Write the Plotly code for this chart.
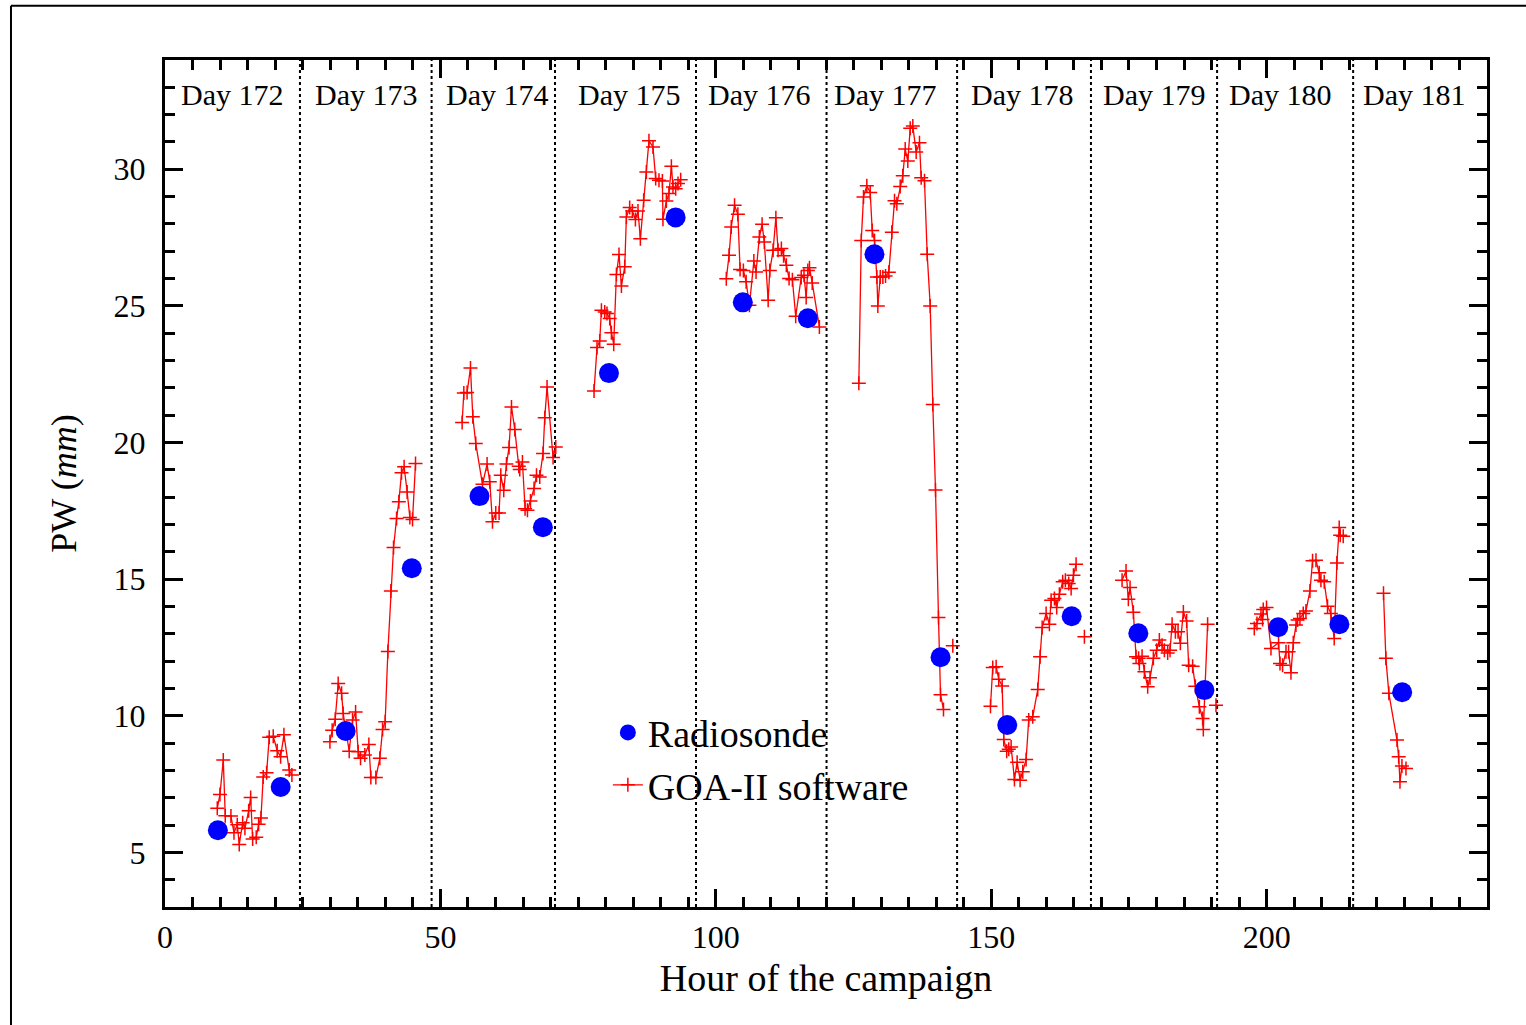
import plotly.graph_objects as go

# ---------------- data ----------------
# Radiosonde precipitable water (mm) vs hour of the campaign
radiosonde_hours = [9.6, 21.0, 32.8, 44.8, 57.1, 68.6, 80.6, 92.7, 104.9, 116.7,
                    128.8, 140.8, 152.9, 164.6, 176.7, 188.7, 202.1, 213.2, 224.6]
radiosonde_pw = [5.81, 7.39, 9.44, 15.40, 18.04, 16.90, 22.54, 28.24, 25.13, 24.55,
                 26.89, 12.14, 9.66, 13.64, 13.02, 10.94, 13.24, 13.35, 10.86]

# GOA-II software retrievals, one block per observing day (None = data gap)
goa_hours_d172 = [9.49, 9.98, 10.58, 10.94, 11.97, 12.52, 13.12, 13.48, 14.10, 14.51, 15.19, 15.55,
                  15.91, 16.56, 17.00, 17.42, 17.83, 18.45, 18.92, 19.65, 20.37, 20.99, 21.59, 22.55, 23.04]
goa_pw_d172 = [6.61, 7.12, 8.38, 6.34, 6.33, 5.72, 6.01, 5.29, 6.08, 5.88, 6.52, 7.01,
               5.49, 5.55, 6.03, 6.26, 7.76, 7.91, 9.21, 9.25, 8.72, 8.50, 9.30, 8.01, 7.83]

goa_hours_d173 = [29.94, 30.35, 30.90, 31.44, 32.06, 32.35, 33.44, 34.05, 34.60, 35.07, 35.50, 36.28,
                  37.01, 37.37, 38.28, 39.00, 39.50, 39.97, 40.46, 41.00, 41.49, 42.04, 42.45, 42.94,
                  43.41, 43.96, 44.45, 44.94, 45.48]
goa_pw_d173 = [9.05, 9.47, 9.87, 11.18, 10.82, 10.08, 8.70, 9.84, 10.14, 8.68, 8.44, 8.56,
               8.95, 7.74, 7.74, 8.44, 9.50, 9.78, 12.35, 14.57, 16.16, 17.22, 17.83, 18.89,
               19.11, 18.19, 17.26, 17.18, 19.23]

goa_hours_d174 = [53.94, 54.25, 54.84, 55.46, 55.88, 56.42, 57.64, 58.47, 58.96, 59.45, 60.05, 60.65,
                  60.96, 61.50, 61.99, 62.46, 62.90, 63.50, 64.22, 64.40, 64.89, 65.37, 65.80, 66.35,
                  67.00, 67.44, 68.03, 68.63, 68.94, 69.36, 70.45, 70.94]
goa_pw_d174 = [20.73, 21.81, 21.83, 22.73, 20.94, 19.96, 18.47, 19.21, 18.56, 17.10, 17.42, 17.42,
               18.80, 18.25, 19.21, 19.82, 21.30, 20.48, 19.13, 19.01, 19.29, 17.58, 17.52, 17.86,
               18.32, 18.80, 18.74, 19.60, 20.91, 22.03, 19.45, 19.84]

goa_hours_d175 = [77.89, 78.43, 78.92, 79.23, 79.83, 80.24, 80.73, 81.04, 81.46, 81.95, 82.42, 82.86,
                  83.46, 83.76, 84.36, 84.85, 85.40, 85.87, 86.30, 86.90, 87.39, 87.86, 88.59, 89.08,
                  89.68, 90.30, 90.40, 91.02, 91.49, 91.93, 92.22, 92.71, 93.13, 93.62]
goa_pw_d175 = [21.89, 23.48, 23.72, 24.84, 24.78, 24.72, 24.54, 24.02, 23.60, 26.15, 26.88, 25.73,
               26.43, 28.25, 28.60, 28.47, 28.16, 28.47, 27.46, 28.87, 29.90, 31.04, 30.82, 29.66,
               29.60, 29.57, 28.17, 28.84, 29.11, 30.11, 29.35, 29.29, 29.48, 29.62]

goa_hours_d176 = [101.9, 102.4, 102.8, 103.4, 104.0, 104.4, 105.0, 105.5, 106.1, 106.9, 107.3, 107.9,
                  108.4, 108.8, 109.5, 109.8, 110.4, 110.9, 111.3, 111.9, 112.3, 112.8, 113.3, 113.9,
                  114.5, 115.5, 116.0, 116.4, 116.7, 117.0, 117.5, 118.8]
goa_pw_d176 = [25.99, 26.85, 27.89, 28.68, 28.35, 26.33, 26.30, 25.88, 25.02, 26.64, 26.24, 27.52,
               27.99, 27.34, 25.21, 26.30, 27.04, 28.23, 27.04, 27.10, 26.84, 26.49, 26.00, 25.96,
               24.62, 26.04, 26.12, 25.31, 26.30, 26.40, 25.84, 24.23]

goa_hours_d177 = [125.96, 126.40, 126.81, 127.41, 128.03, 128.39, 128.81, 129.23, 129.41, 129.85, 130.32,
                  130.81, 131.41, 131.95, 132.44, 132.86, 133.47, 133.94, 134.38, 134.85, 135.29, 135.76,
                  136.37, 136.97, 137.28, 137.88, 138.37, 138.92, 139.39, 139.88, 140.42, 140.79, 141.33,
                  None, 143.02]
goa_pw_d177 = [22.17, 27.39, 28.99, 29.40, 29.15, 27.76, 27.39, 26.06, 25.00, 26.06, 26.06,
               26.09, 26.23, 27.70, 28.85, 28.74, 29.37, 29.76, 30.74, 30.30, 31.50, 31.58,
               30.63, 30.97, 29.69, 29.58, 26.89, 25.00, 21.39, 18.26, 13.60, 10.77, 10.23,
               None, 12.56]

goa_hours_d178 = [149.86, 150.27, 150.89, 151.36, 151.98, 152.27, 152.81, 153.18, 153.61, 154.21, 154.70,
                  155.24, 155.72, 156.33, 156.80, 157.53, 158.44, 158.87, 159.24, 159.96, 160.56, 160.87,
                  161.47, 161.88, 162.37, 162.97, 163.46, 164.06, 164.50, 164.92, 165.40, None, 166.91]
goa_pw_d178 = [10.35, 11.77, 11.79, 11.34, 11.09, 9.13, 8.70, 8.77, 8.86, 7.67, 8.30,
               7.64, 7.95, 8.40, 9.84, 9.96, 10.96, 12.16, 13.23, 13.74, 13.35, 14.23,
               14.29, 13.96, 14.45, 14.90, 14.96, 14.84, 14.66, 15.14, 15.54, None, 12.89]

goa_hours_d179 = [173.75, 174.47, 174.89, 175.20, 175.80, 176.29, 176.76, 176.89, 177.38, 177.80, 178.40,
                  178.83, 179.43, 180.03, 180.52, 181.01, 181.43, 182.03, 182.46, 182.83, 183.43, 183.91,
                  184.33, 184.88, 185.47, 185.84, 186.56, 187.05, 187.78, 188.37, 188.50, 189.28,
                  None, 190.80]
goa_pw_d179 = [14.96, 15.30, 14.26, 14.69, 13.79, 12.16, 12.10, 11.91, 12.18, 11.61, 11.06,
               11.39, 12.10, 12.40, 12.77, 12.58, 12.40, 12.30, 12.40, 13.35, 13.07, 13.07,
               12.65, 13.80, 13.47, 11.85, 11.81, 11.08, 10.33, 9.90, 9.50, 13.35,
               None, 10.38]

goa_hours_d180 = [197.75, 198.24, 198.97, 199.26, 199.38, 199.98, 200.78, 202.16, 202.42, 202.89, 203.51,
                  203.98, 204.41, 204.83, 205.32, 205.61, 206.04, 206.64, 207.13, 207.86, 208.33, 208.95,
                  209.54, 209.85, 210.45, 211.05, 211.66, 212.26, 212.75, 213.17, 213.35, 213.90]
goa_pw_d180 = [13.19, 13.38, 13.72, 13.52, 13.89, 13.96, 12.46, 12.67, 11.91, 11.85, 12.34,
               12.34, 11.57, 12.67, 13.32, 13.50, 13.56, 13.74, 13.83, 14.57, 15.67, 15.69,
               15.23, 14.96, 14.90, 14.01, 13.74, 12.83, 15.59, 16.89, 16.61, 16.57]

goa_hours_d181 = [221.21, 221.64, 222.18, 223.66, 223.96, 224.20, 224.56, 225.29]
goa_pw_d181 = [14.48, 12.10, 10.82, 9.11, 8.50, 7.58, 8.16, 8.07]

# Day boundaries (hour of campaign) and day labels
day_boundaries = [24.5, 48.4, 70.8, 96.4, 120.1, 143.8, 168.1, 191.0, 215.7]
day_labels = ["Day 172", "Day 173", "Day 174", "Day 175", "Day 176",
              "Day 177", "Day 178", "Day 179", "Day 180", "Day 181"]
day_label_hours = [12.2, 36.5, 60.2, 84.2, 107.9, 130.8, 155.5, 179.6, 202.5, 226.8]

x_ticks = [0, 50, 100, 150, 200]
y_ticks = [5, 10, 15, 20, 25, 30]

# ---------------- build series with gaps between days ----------------
goa_blocks = [
    (goa_hours_d172, goa_pw_d172), (goa_hours_d173, goa_pw_d173), (goa_hours_d174, goa_pw_d174),
    (goa_hours_d175, goa_pw_d175), (goa_hours_d176, goa_pw_d176), (goa_hours_d177, goa_pw_d177),
    (goa_hours_d178, goa_pw_d178), (goa_hours_d179, goa_pw_d179), (goa_hours_d180, goa_pw_d180),
    (goa_hours_d181, goa_pw_d181),
]
goa_x, goa_y = [], []
for hx, py in goa_blocks:
    if goa_x:
        goa_x.append(None)
        goa_y.append(None)
    goa_x.extend(hx)
    goa_y.extend(py)

FONT = "Liberation Serif"

fig = go.Figure()

fig.add_trace(go.Scatter(
    x=goa_x, y=goa_y, mode="lines+markers", name="GOA-II software",
    line=dict(color="#ff0000", width=1.3),
    marker=dict(symbol="cross-thin", size=10, line=dict(color="#ff0000", width=1.5)),
    connectgaps=False, legendrank=2,
))
fig.add_trace(go.Scatter(
    x=radiosonde_hours, y=radiosonde_pw, mode="markers", name="Radiosonde",
    marker=dict(symbol="circle", size=20, color="#0000ff", line=dict(width=0)),
    legendrank=1,
))

# dotted day separators
for b in day_boundaries:
    fig.add_shape(type="line", xref="x", yref="paper", x0=b, x1=b, y0=0, y1=1,
                  line=dict(color="black", width=2, dash="dot"), layer="below")

# day labels
for lbl, hx in zip(day_labels, day_label_hours):
    fig.add_annotation(x=hx, y=32.72, xref="x", yref="y", text=lbl, showarrow=False,
                       font=dict(family=FONT, size=30, color="black"))

# outer frame (left and top edges visible in the image)
fig.add_shape(type="line", xref="paper", yref="paper", x0=-0.1165, x1=-0.1165, y0=-0.2, y1=1.064,
              line=dict(color="black", width=2))
fig.add_shape(type="line", xref="paper", yref="paper", x0=-0.1165, x1=1.05, y0=1.064, y1=1.064,
              line=dict(color="black", width=2))

axis_common = dict(
    showgrid=False, zeroline=False, showline=True, linecolor="black", linewidth=3,
    mirror="allticks", ticks="inside", ticklen=18, tickwidth=3, tickcolor="black",
    tickfont=dict(family=FONT, size=32, color="black"),
)

fig.update_xaxes(
    range=[0, 240], tickvals=x_ticks,
    minor=dict(dtick=5, ticks="inside", ticklen=10, tickwidth=3, tickcolor="black"),
    title=dict(text="Hour of the campaign", font=dict(family=FONT, size=38, color="black"), standoff=10),
    **axis_common,
)
fig.update_yaxes(
    range=[3, 34], tickvals=y_ticks, ticklabelstandoff=10,
    minor=dict(dtick=1, ticks="inside", ticklen=10, tickwidth=3, tickcolor="black"),
    title=dict(text="PW (<i>mm</i>)", font=dict(family=FONT, size=36, color="black"), standoff=26),
    **axis_common,
)

fig.update_layout(
    width=1526, height=1025,
    margin=dict(l=165, r=39, t=60, b=118),
    paper_bgcolor="white", plot_bgcolor="white",
    font=dict(family=FONT, color="black"),
    legend=dict(x=0.335, y=0.243, xanchor="left", yanchor="top",
                bgcolor="rgba(0,0,0,0)", borderwidth=0,
                font=dict(family=FONT, size=38, color="black"),
                tracegroupgap=0),
    showlegend=True,
)

fig.write_html("out.html")
